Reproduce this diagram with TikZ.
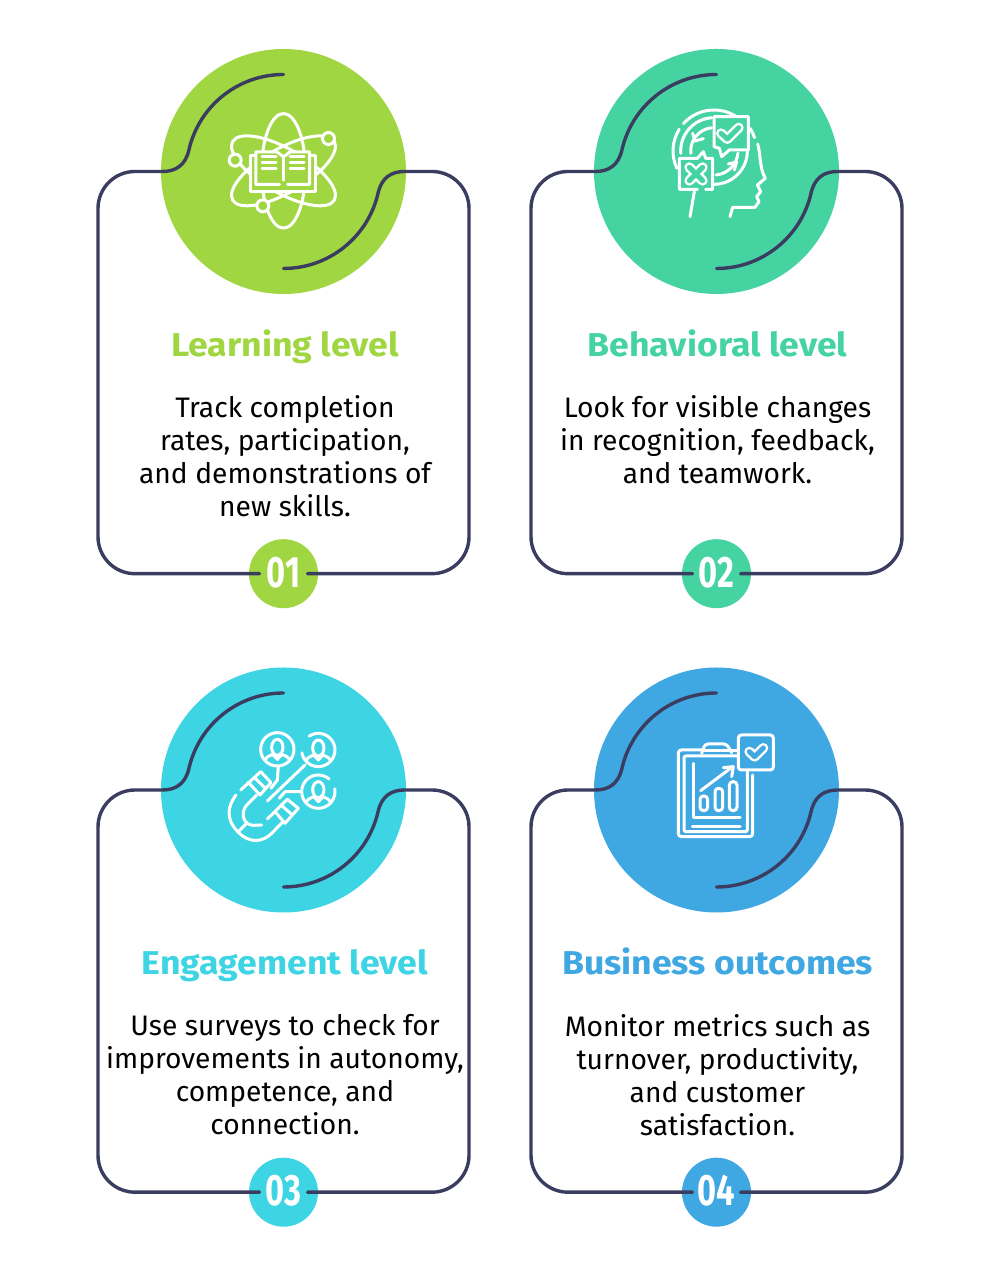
\documentclass[tikz,border=0pt]{standalone}
\usepackage{fontspec}
\setmainfont{Fira Sans}
\newfontfamily\numfont[FakeStretch=0.74]{Fira Sans}
\newfontfamily\titlefont[FakeStretch=1.08]{Fira Sans}
\usetikzlibrary{positioning}

\definecolor{limeC}{HTML}{9FD641}
\definecolor{tealC}{HTML}{46D3A2}
\definecolor{cyanC}{HTML}{3DD4E3}
\definecolor{blueC}{HTML}{3FA7E2}
\definecolor{lineC}{HTML}{3A3C60}

\begin{document}
\begin{tikzpicture}[
        x=1pt, y=1pt,
        disc/.style={circle, minimum size=245pt, inner sep=0pt},
        badge/.style={circle, minimum size=69pt, inner sep=0pt, text=white,
            font=\numfont\bfseries\fontsize{44}{44}\selectfont},
        headline/.style={font=\titlefont\bfseries\fontsize{33}{36}\selectfont,
            text height=24pt, text depth=8pt, inner sep=0pt},
        bodytext/.style={font=\fontsize{28.2}{33}\selectfont, align=center,
            anchor=north, inner sep=0pt, text depth=0pt},
        icon/.style={white, line width=3pt, line cap=round, line join=round},
        zoomed/.style 2 args={x=0.3333pt, y=-0.3333pt, shift={(-#1,-#2)}},
        frame/.pic={
            \draw[lineC, line width=3.4pt, line cap=round]
                (0,97) arc (90:167:97) .. controls (-98,6) and (-108,0) .. (-121,0)
                -- (-148.5,0) arc (90:180:37) -- (-185.5,-365.2) arc (180:270:37) -- (-24,-402.2);
            \draw[lineC, line width=3.4pt, line cap=round]
                (0,-97) arc (-90:-13:97) .. controls (98,-6) and (108,0) .. (121,0)
                -- (148.5,0) arc (90:0:37) -- (185.5,-365.2) arc (0:-90:37) -- (24,-402.2);
        },
        person/.pic={
            \draw[icon] (0,-6) ellipse [x radius=17, y radius=24];
            \draw[icon] (-37,32) .. controls (-30,18) and (-20,20) .. (-14,15) -- (0,30) -- (14,15)
                .. controls (20,20) and (30,18) .. (37,32);
        },
        atombook/.pic={
            \begin{scope}[zoomed={400}{394}]
            \draw[icon] (400,392) ellipse [x radius=66, y radius=172];
            \draw[icon, rotate around={60:(400,392)}] (400,392) ellipse [x radius=66, y radius=176];
            \draw[icon, rotate around={-60:(400,392)}] (400,392) ellipse [x radius=66, y radius=176];
            % book
            \fill[limeC] (300,335) rectangle (497,455);
            \draw[icon] (313,345) -- (302,345) -- (302,455) -- (497,455) -- (497,345) -- (482,345);
            \draw[icon] (400,350) -- (380,335) -- (317,335) -- (317,433) -- (388,433);
            \draw[icon] (400,350) -- (420,335) -- (478,335) -- (478,433) -- (412,433);
            \draw[icon] (400,350) -- (400,420);
            \foreach \yy in {350,368,386} {
                \draw[icon] (336,\yy) -- (378,\yy);
                \draw[icon] (420,\yy) -- (462,\yy);
            }
            \filldraw[icon, fill=limeC] (255,360) circle (18);
            \filldraw[icon, fill=limeC] (535,295) circle (18);
            \filldraw[icon, fill=limeC] (338,497) circle (18);
            \end{scope}
        },
        brainhead/.pic={
            \begin{scope}[zoomed={229.5}{244.5}]
            \draw[icon] (222,183) ++(155:123) arc (155:212:123);
            \draw[icon] (222,183) ++(222:123) arc (222:302:123);
            \draw[icon] (222,183) ++(328:128) arc (328:342:128);
            \draw[icon] (222,183) ++(176:100) arc (176:266:100);
            \draw[icon] (222,183) ++(0:100) arc (0:90:100);
            \draw[icon] (222,183) ++(174:70) arc (174:264:70);
            \draw[icon] (222,183) ++(5:72) arc (5:85:72);
            \draw[icon] (158,130) -- (165,153) -- (190,146);
            \draw[icon] (265,222) -- (290,216) -- (283,240);
            \draw[icon] (353,162) .. controls (362,190) and (358,235) .. (376,265)
                -- (352,285) -- (362,305) -- (350,320) -- (357,335) -- (345,352) -- (278,352) -- (270,380);
            \draw[icon] (163,305) -- (150,380);
            % check box
            \filldraw[icon, fill=tealC] (222,80) -- (325,80) -- (325,180) -- (268,180) -- (245,200)
                -- (238,175) -- (222,170) -- cycle;
            \draw[white, line width=10pt, line cap=round, line join=round] (243,130) -- (262,147) -- (296,113);
            \draw[tealC, line width=5pt, line cap=round, line join=round] (243,130) -- (262,147) -- (296,113);
            % cross box
            \fill[tealC] (118,205) -- (172,205) -- (190,185) -- (197,205) -- (218,205) -- (218,298) -- (118,298) -- cycle;
            \draw[icon] (197,298) -- (218,298) -- (218,205) -- (197,205) -- (190,185) -- (172,205)
                -- (118,205) -- (118,298) -- (172,298);
            \draw[white, line width=10pt, line cap=round] (148,232) -- (188,272) (188,232) -- (148,272);
            \draw[tealC, line width=5pt, line cap=round] (148,232) -- (188,272) (188,232) -- (148,272);
            \end{scope}
        },
        magnetpeople/.pic={
            \begin{scope}[zoomed={220.5}{210}]
            \draw[icon] (202,88) circle (50);
            \draw[icon] (325,90) ++(237:50) arc (237:530:50);
            \draw[icon] (325,215) ++(-10:50) arc (-10:310:50);
            \pic at (202,88) {person};
            \pic at (325,90) {person};
            \pic at (325,215) {person};
            \draw[icon] (205,140) -- (202,180) -- (183,205);
            \draw[icon] (285,135) -- (172,243);
            \draw[icon] (272,215) -- (225,215) -- (208,235);
            % magnet
            \draw[icon] (78,225) .. controls (50,262) and (48,300) .. (85,337)
                .. controls (115,368) and (155,370) .. (185,340) -- (217,307);
            \draw[icon] (140,225) -- (110,255) .. controls (90,280) and (100,315) .. (130,316) -- (155,315);
            \draw[icon] (85,335) -- (110,310);
            \draw[icon] (92,210) -- (152,155) -- (183,188) -- (150,225) -- (115,187);
            \draw[icon] (133,172) -- (167,206);
            \draw[icon] (172,297) -- (232,238) -- (265,265) -- (225,310) -- (195,275);
            \draw[icon] (213,255) -- (247,285);
            \end{scope}
        },
        clipchart/.pic={
            \begin{scope}[zoomed={169.5}{210}]
            \draw[icon, rounded corners=3pt] (125,90) -- (55,90) -- (55,350) -- (278,350) -- (278,165);
            \draw[icon, rounded corners=2pt] (232,108) -- (72,108) -- (72,335) -- (262,335) -- (262,155);
            \draw[icon, rounded corners=3pt] (125,100) -- (135,72) -- (200,72) -- (215,98);
            \draw[icon] (125,92) -- (235,92);
            \filldraw[icon, fill=blueC, rounded corners=3pt] (235,45) rectangle (340,150);
            \draw[white, line width=10pt, line cap=round, line join=round] (268,95) -- (284,110) -- (310,84);
            \draw[blueC, line width=5pt, line cap=round, line join=round] (268,95) -- (284,110) -- (310,84);
            \draw[icon] (100,130) -- (100,292) -- (240,292);
            \draw[icon, rounded corners=3.5pt] (120,228) rectangle (143,272);
            \draw[icon, rounded corners=3.5pt] (165,205) rectangle (188,272);
            \draw[icon, rounded corners=3.5pt] (208,185) rectangle (231,272);
            \draw[icon] (122,212) -- (218,140);
            \draw[icon] (190,143) -- (220,140) -- (215,170);
            \draw[icon] (97,320) -- (240,320);
            \end{scope}
        }
      ]

  \useasboundingbox (0,0) rectangle (1000,1276);

  \node[disc,fill=limeC] (D1) at (283.5,1104.5) {};
  \node[disc,fill=tealC] (D2) at (716.5,1104.5) {};
  \node[disc,fill=cyanC] (D3) at (283.5,486) {};
  \node[disc,fill=blueC] (D4) at (716.5,486) {};

  \node[badge,fill=limeC,text depth=3pt] (N1) at (283.5,702.3) {01};
  \node[badge,fill=tealC,text depth=3pt] (N2) at (716.5,702.3) {02};
  \node[badge,fill=cyanC,text depth=3pt] (N3) at (283.5,83.8) {03};
  \node[badge,fill=blueC,text depth=3pt] (N4) at (716.5,83.8) {04};

  \pic at (D1.center) {frame};
  \pic at (D2.center) {frame};
  \pic at (D3.center) {frame};
  \pic at (D4.center) {frame};

  \pic at (D1.center) {atombook};
  \pic at (D2.center) {brainhead};
  \pic at (D3.center) {magnetpeople};
  \pic at (D4.center) {clipchart};

  \node[headline,text=limeC,below=38pt of D1,xshift=1.5pt] (T1) {Learning level};
  \node[headline,text=tealC,below=38pt of D2,xshift=1pt] (T2) {Behavioral level};
  \node[headline,text=cyanC,below=38pt of D3,xshift=1.5pt] (T3) {Engagement level};
  \node[headline,text=blueC,below=38pt of D4,xshift=1pt] (T4) {Business outcomes};

  \node[bodytext,below=31pt of T1.south] (B1) {Track completion\\rates, participation,\\and demonstrations of\\new skills.};
  \node[bodytext,below=31pt of T2.south] (B2) {Look for visible changes\\in recognition, feedback,\\and teamwork.};
  \node[bodytext,below=31pt of T3.south] (B3) {Use surveys to check for\\improvements in autonomy,\\competence, and\\connection.};
  \node[bodytext,below=31pt of T4.south] (B4) {Monitor metrics such as\\turnover, productivity,\\and customer\\satisfaction.};
\end{tikzpicture}
\end{document}
